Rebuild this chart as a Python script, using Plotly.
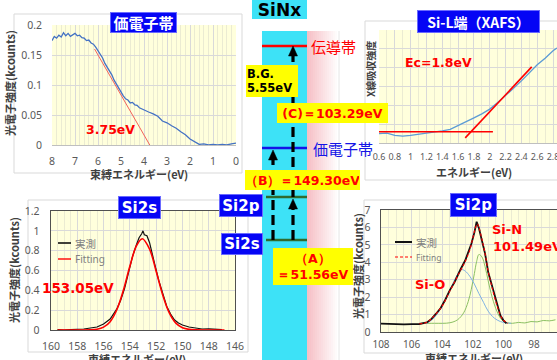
import plotly.graph_objects as go

W, H = 557, 360

# ---------------- data ----------------
# Valence band (binding energy, kcounts)
vb_energy = [8.0, 7.9, 7.8, 7.7, 7.6, 7.5, 7.4, 7.3, 7.2, 7.1, 7.0, 6.9, 6.8, 6.7, 6.6, 6.5, 6.4, 6.3,
             6.2, 6.1, 6.0, 5.9, 5.8, 5.7, 5.6, 5.5, 5.4, 5.3, 5.2, 5.1, 5.0, 4.9, 4.8, 4.7, 4.6, 4.5,
             4.4, 4.3, 4.2, 4.1, 4.0, 3.8, 3.6, 3.4, 3.2, 3.0, 2.8, 2.6, 2.4, 2.2, 2.0, 1.8, 1.6, 1.4,
             1.2, 1.0, 0.8, 0.6, 0.4, 0.2, 0.0]
vb_counts = [0.174, 0.181, 0.178, 0.183, 0.180, 0.187, 0.182, 0.186, 0.181, 0.184, 0.186, 0.182,
             0.183, 0.179, 0.178, 0.174, 0.175, 0.170, 0.168, 0.163, 0.157, 0.150, 0.145, 0.136,
             0.130, 0.122, 0.117, 0.108, 0.101, 0.095, 0.087, 0.082, 0.077, 0.075, 0.070, 0.071,
             0.067, 0.066, 0.062, 0.060, 0.058, 0.055, 0.052, 0.048, 0.040, 0.037, 0.032, 0.028,
             0.022, 0.017, 0.010, 0.005, 0.001, 0.002, 0.000, 0.001, 0.000, 0.001, 0.000, 0.002, 0.003]
vb_tangent_energy = [6.15, 3.75]
vb_tangent_counts = [0.160, 0.0]
vb_xticks = [8, 7, 6, 5, 4, 3, 2, 1, 0]
vb_yticks = [0, 0.05, 0.1, 0.15, 0.2]
vb_ytext = ["0", "0.05", "0.1", "0.15", "0.2"]

# Si-L edge XAFS
xafs_energy = [0.6, 0.7, 0.8, 0.9, 1.0, 1.1, 1.2, 1.3, 1.4, 1.5, 1.6, 1.7, 1.8, 1.9, 2.0, 2.1,
               2.2, 2.3, 2.4, 2.5, 2.6, 2.7, 2.8, 2.85]
xafs_intensity = [0.50, 0.52, 0.41, 0.36, 0.40, 0.45, 0.53, 0.58, 0.64, 0.72, 0.92, 1.10, 1.33,
                  1.55, 1.80, 2.15, 2.50, 2.90, 3.30, 3.72, 4.15, 4.50, 4.90, 5.04]
xafs_base_energy = [0.6, 2.04]
xafs_base_int = [0.6, 0.6]
xafs_edge_energy = [1.69, 2.53]
xafs_edge_int = [0.27, 4.04]
xafs_xticks = [0.6, 0.8, 1.0, 1.2, 1.4, 1.6, 1.8, 2.0, 2.2, 2.4, 2.6, 2.8]
xafs_xtext = ["0.6", "0.8", "1", "1.2", "1.4", "1.6", "1.8", "2", "2.2", "2.4", "2.6", "2.8"]

# Si2s
si2s_be = [159.5, 159.0, 158.5, 158.0, 157.5, 157.0, 156.5, 156.0, 155.5, 155.0, 154.7, 154.4,
           154.1, 153.8, 153.5, 153.3, 153.1, 153.0, 152.9, 152.7, 152.5, 152.3, 152.1, 151.8,
           151.5, 151.2, 150.9, 150.6, 150.3, 150.0, 149.5, 149.0, 148.5, 148.0, 147.5, 147.0]
si2s_meas = [0.003, 0.0, 0.005, 0.004, 0.010, 0.020, 0.030, 0.060, 0.110, 0.210, 0.300, 0.420,
             0.580, 0.740, 0.860, 0.930, 0.970, 1.000, 0.960, 0.950, 0.880, 0.780, 0.660, 0.500,
             0.360, 0.240, 0.160, 0.100, 0.070, 0.050, 0.030, 0.020, 0.010, 0.012, 0.005, 0.003]
si2s_fit_be = [159.5, 158.0, 157.0, 156.5, 156.0, 155.5, 155.0, 154.5, 154.0, 153.5, 153.05,
               152.5, 152.0, 151.5, 151.0, 150.5, 150.0, 149.5, 149.0, 148.0, 146.8]
si2s_fit = [0.0, 0.0, 0.002, 0.008, 0.029, 0.084, 0.202, 0.398, 0.642, 0.848, 0.920,
            0.815, 0.593, 0.353, 0.172, 0.069, 0.023, 0.006, 0.001, 0.0, 0.0]
si2s_xticks = [160, 158, 156, 154, 152, 150, 148, 146]
si2s_yticks = [0, 0.2, 0.4, 0.6, 0.8, 1.0, 1.2]
si2s_ytext = ["0", "0.2", "0.4", "0.6", "0.8", "1", "1.2"]

# Si2p
si2p_be = [108.0, 107.5, 107.0, 106.5, 106.0, 105.5, 105.0, 104.7, 104.4, 104.1, 103.8, 103.5,
           103.2, 103.0, 102.8, 102.5, 102.3, 102.1, 101.9, 101.75, 101.6, 101.4, 101.2, 101.0,
           100.8, 100.6, 100.4, 100.2, 100.0, 99.8]
si2p_meas = [0.48, 0.46, 0.47, 0.44, 0.45, 0.46, 0.55, 0.75, 1.05, 1.38, 1.85, 2.40, 2.85, 3.25,
             3.60, 4.10, 4.55, 5.05, 5.70, 6.33, 5.95, 5.30, 4.50, 3.45, 2.80, 2.10, 1.45, 0.95,
             0.67, 0.50]
si2p_fit_be = [105.5, 105.0, 104.5, 104.0, 103.5, 103.0, 102.5, 102.2, 102.0, 101.8, 101.7, 101.6,
               101.4, 101.2, 101.0, 100.8, 100.5, 100.2, 100.0, 99.7]
si2p_fit = [0.47, 0.56, 0.95, 1.50, 2.35, 3.20, 4.05, 4.70, 5.40, 6.05, 6.20, 6.00, 5.30, 4.50,
            3.50, 2.75, 1.75, 0.98, 0.68, 0.50]
sin_be = [105.0, 104.5, 103.5, 103.0, 102.6, 102.3, 102.1, 101.9, 101.75, 101.6, 101.4, 101.2,
          101.0, 100.8, 100.5, 100.2, 100.0, 99.7, 99.4, 99.0, 98.6, 98.2, 97.8, 97.4, 97.0, 96.6]
sin_comp = [0.50, 0.50, 0.53, 0.70, 1.10, 1.75, 2.45, 3.35, 4.05, 4.45, 4.30, 3.75, 2.95, 2.20,
            1.35, 0.80, 0.62, 0.52, 0.50, 0.55, 0.52, 0.60, 0.58, 0.66, 0.64, 0.70]
sio_be = [105.0, 104.6, 104.2, 103.8, 103.4, 103.0, 102.75, 102.5, 102.2, 101.9, 101.6, 101.3,
          101.0, 100.6, 100.2, 99.8, 99.5]
sio_comp = [0.50, 0.75, 1.20, 1.85, 2.60, 3.30, 3.58, 3.50, 3.20, 2.75, 2.20, 1.70, 1.20, 0.80,
            0.60, 0.52, 0.50]
si2p_xticks = [108, 106, 104, 102, 100, 98]
si2p_yticks = [0, 1, 2, 3, 4, 5, 6, 7]

# ---------------- helpers ----------------
def X(px):
    return px / W


def Y(py):
    return 1 - py / H


JP = "Noto Sans CJK JP"
LAT = "DejaVu Sans"
TICKC = "#595959"
GRID = "#D9D9D9"
MINOR = "#EBEBD2"

fig = go.Figure()

# ---------------- traces ----------------
fig.add_trace(go.Scatter(x=vb_energy, y=vb_counts, mode="lines",
                         line=dict(color="#4472C4", width=1.3), xaxis="x", yaxis="y"))
fig.add_trace(go.Scatter(x=vb_tangent_energy, y=vb_tangent_counts, mode="lines",
                         line=dict(color="#F4625A", width=1), xaxis="x", yaxis="y"))

fig.add_trace(go.Scatter(x=xafs_energy, y=xafs_intensity, mode="lines",
                         line=dict(color="#5B9BD5", width=1.3), xaxis="x2", yaxis="y2"))
fig.add_trace(go.Scatter(x=xafs_base_energy, y=xafs_base_int, mode="lines",
                         line=dict(color="#FF0000", width=1.6), xaxis="x2", yaxis="y2"))
fig.add_trace(go.Scatter(x=xafs_edge_energy, y=xafs_edge_int, mode="lines",
                         line=dict(color="#FF0000", width=1.6), xaxis="x2", yaxis="y2"))

fig.add_trace(go.Scatter(x=si2s_be, y=si2s_meas, mode="lines",
                         line=dict(color="#111111", width=1.2), xaxis="x3", yaxis="y3"))
fig.add_trace(go.Scatter(x=si2s_fit_be, y=si2s_fit, mode="lines", line_shape="spline",
                         line=dict(color="#FF0000", width=1.6), xaxis="x3", yaxis="y3"))

fig.add_trace(go.Scatter(x=sin_be, y=sin_comp, mode="lines", line_shape="spline",
                         line=dict(color="#8CC063", width=1), xaxis="x4", yaxis="y4"))
fig.add_trace(go.Scatter(x=sio_be, y=sio_comp, mode="lines", line_shape="spline",
                         line=dict(color="#7FB2E5", width=1), xaxis="x4", yaxis="y4"))
fig.add_trace(go.Scatter(x=si2p_be, y=si2p_meas, mode="lines",
                         line=dict(color="#111111", width=1.8), xaxis="x4", yaxis="y4"))
fig.add_trace(go.Scatter(x=si2p_fit_be, y=si2p_fit, mode="lines", line_shape="spline",
                         line=dict(color="#FF0000", width=1.1, dash="3px,2px"), xaxis="x4", yaxis="y4"))

# ---------------- axes ----------------
tickfont = dict(family="Noto Sans", size=10.5, color=TICKC)


def xax(domain, rng, tickvals, ticktext, minor_dtick, anchor, box=False, standoff=7, size=10.5):
    d = dict(domain=domain, range=rng, tickmode="array", tickvals=tickvals, ticktext=ticktext,
             showgrid=True, gridcolor=GRID, gridwidth=1, zeroline=False, anchor=anchor,
             minor=dict(dtick=minor_dtick, showgrid=True, gridcolor=MINOR, gridwidth=1),
             ticks="", tickfont=dict(family="Noto Sans", size=size, color=TICKC),
             ticklabelstandoff=standoff, ticklabeloverflow="allow",
             fixedrange=True, automargin=False)
    if box:
        d.update(showline=True, linecolor="#505050", linewidth=1.3, mirror=True)
    else:
        d.update(showline=True, linecolor="#BFBFBF", linewidth=1)
    return d


def yax(domain, rng, tickvals, ticktext, anchor, box=False, standoff=8, show=True):
    d = dict(domain=domain, range=rng, tickmode="array", tickvals=tickvals, ticktext=ticktext,
             showgrid=True, gridcolor=GRID, gridwidth=1, zeroline=False, anchor=anchor,
             ticks="", tickfont=tickfont, ticklabelstandoff=standoff, showticklabels=show,
             fixedrange=True, automargin=False)
    if box:
        d.update(showline=True, linecolor="#505050", linewidth=1.3, mirror=True)
    return d


layout = dict(
    width=W, height=H, margin=dict(l=0, r=0, t=0, b=0, autoexpand=False),
    paper_bgcolor="white", plot_bgcolor="#FFFFDC", showlegend=False,
    xaxis=xax([X(52), X(236)], [8, 0], vb_xticks, [str(v) for v in vb_xticks], 0.2, "y", standoff=6),
    yaxis=yax([Y(145), Y(25)], [0, 0.2], vb_yticks, vb_ytext, "x", standoff=9),
    xaxis2=xax([X(379), 1.0], [0.6, 2.85], xafs_xticks, xafs_xtext, 0.1, "y2", standoff=5, size=9),
    yaxis2=yax([Y(143), Y(30)], [0, 6], [0, 1, 2, 3, 4, 5, 6], [""] * 7, "x2", show=False),
    xaxis3=xax([X(51), X(235)], [160, 146], si2s_xticks, [str(v) for v in si2s_xticks], 0.5, "y3",
               box=True, standoff=6),
    yaxis3=yax([Y(330), Y(211)], [0, 1.2], si2s_yticks, si2s_ytext, "x3", box=True, standoff=8),
    xaxis4=xax([X(381), 1.0], [108, 96.5], si2p_xticks, [str(v) for v in si2p_xticks], 0.5, "y4",
               box=True, standoff=3, size=10),
    yaxis4=yax([Y(332), Y(210)], [0, 7], si2p_yticks, [str(v) for v in si2p_yticks], "x4",
               box=True, standoff=7),
)

# ---------------- shapes ----------------
shapes = []


def rect(x0, y0, x1, y1, fill=None, line=None, lw=1, layer="below"):
    shapes.append(dict(type="rect", xref="paper", yref="paper", x0=X(x0), x1=X(x1),
                       y0=Y(y1), y1=Y(y0), fillcolor=fill or "rgba(0,0,0,0)",
                       line=dict(color=line or "rgba(0,0,0,0)", width=lw if line else 0),
                       layer=layer))


def hline(x0, x1, y, color, w, dash="solid", layer="above"):
    shapes.append(dict(type="line", xref="paper", yref="paper", x0=X(x0), x1=X(x1),
                       y0=Y(y), y1=Y(y), line=dict(color=color, width=w, dash=dash), layer=layer))


def vline(x, y0, y1, color, w, dash="solid", layer="above"):
    shapes.append(dict(type="line", xref="paper", yref="paper", x0=X(x), x1=X(x),
                       y0=Y(y0), y1=Y(y1), line=dict(color=color, width=w, dash=dash), layer=layer))


def arrowhead(x, tip, size=10, half=4.5):
    p = "M {} {} L {} {} L {} {} Z".format(X(x), Y(tip), X(x - half), Y(tip + size),
                                            X(x + half), Y(tip + size))
    shapes.append(dict(type="path", xref="paper", yref="paper", path=p,
                       fillcolor="black", line=dict(color="black", width=0.5), layer="above"))


# chart-area borders
rect(14, 14, 242, 173, line="#D9D9D9")
rect(365, 21, 560, 180, line="#D9D9D9")
rect(28, 200, 248, 352, line="#D9D9D9")
rect(364, 200, 560, 353, line="#D9D9D9")

# band diagram columns
rect(262, 31, 307, 362, fill="#3DE2F7")
n = 16
c0 = (246, 192, 198)
for i in range(n):
    t = i / (n - 1)
    col = tuple(int(round(c0[k] + (255 - c0[k]) * t)) for k in range(3))
    xs = 307 + 32 * i / n
    rect(xs, 31, xs + 32 / n + 0.3, 362, fill="rgb({},{},{})".format(*col))
vline(339, 31, 362, "#E6E6E6", 1)

# levels
hline(262, 307, 46, "#FF0000", 2.5)
hline(262, 307, 148, "#1414E6", 2.5)
hline(266, 307, 197, "#2F6B2F", 2.5)
hline(266, 307, 240, "#2F6B2F", 2.5)

# dashed transitions
DASH = "10px,5px"
vline(273, 240, 159, "black", 3.2, DASH)
arrowhead(273, 150)
vline(293, 240, 208, "black", 3.2, DASH)
arrowhead(293, 199)
vline(293, 197, 56, "black", 3.2, DASH)
arrowhead(293, 46)

# legend samples
hline(58, 71, 243, "#111111", 1.6)
hline(58, 71, 259, "#FF0000", 1.4)
hline(395, 412, 242, "#111111", 2)
hline(395, 412, 257, "#FF0000", 1.2, dash="3px,2px")

layout["shapes"] = shapes

# ---------------- annotations ----------------
ann = []


def text(t, x, y, size, color, family=JP, bold=False, xanchor="center", angle=0):
    ann.append(dict(text="<b>{}</b>".format(t) if bold else t, xref="paper", yref="paper",
                    x=X(x), y=Y(y), xanchor=xanchor, yanchor="middle", showarrow=False,
                    textangle=angle, font=dict(family=family, size=size, color=color)))


def box(t, cx, cy, w, h, bg, color, size, family=JP, bold=True, align="center", border=None):
    ann.append(dict(text="<b>{}</b>".format(t) if bold else t, xref="paper", yref="paper",
                    x=X(cx), y=Y(cy), xanchor="center", yanchor="middle", showarrow=False,
                    width=w - 2, height=h - 2, borderpad=0, bgcolor=bg, align=align,
                    bordercolor=border or bg, borderwidth=1,
                    font=dict(family=family, size=size, color=color)))


BLUE = "#0505F5"
# panel titles
box("価電子帯", 143.5, 22.5, 67, 21, BLUE, "white", 15, border="#6A6AFF")
box("Si-L端（XAFS）", 478.5, 21.5, 123, 23, BLUE, "white", 14, border="#6A6AFF")
box("Si2s", 139, 207.5, 43, 23, BLUE, "white", 15, family=LAT, border="#6A6AFF")
box("Si2p", 473.5, 205, 47, 24, BLUE, "white", 15, family=LAT, border="#6A6AFF")
box("Si2p", 241, 205.5, 44, 23, BLUE, "white", 15, family=LAT, border="#6A6AFF")
box("Si2s", 242, 244, 42, 22, BLUE, "white", 15, family=LAT, border="#6A6AFF")

# SiNx header
box("SiNx", 279.5, 9.5, 55, 19, "#3DE2F7", "black", 17, family=LAT)

# yellow value boxes
YEL = "#FFFF00"
box("B.G.<br>5.55eV", 272, 81, 52, 32, YEL, "black", 11.5, family=LAT, align="left")
box("(C)＝103.29eV", 332.5, 113, 111, 20, YEL, "#FF0000", 12.5, family=LAT)
box("（B）＝149.30eV", 302.5, 180, 115, 20, YEL, "#FF0000", 12.5, family=LAT)
box("（A）<br>＝51.56eV", 313, 266.5, 80, 37, YEL, "#FF0000", 12.5, family=LAT)

# level labels
text("伝導帯", 333.5, 46, 15, "#FF0000")
text("価電子帯", 342.5, 148, 15, "#1414E6")

# red value labels
text("3.75eV", 110, 129, 12.5, "#FF0000", family=LAT, bold=True)
text("Ec=1.8eV", 439, 62, 12.5, "#FF0000", family=LAT, bold=True)
text("153.05eV", 78, 288, 13.5, "#FF0000", family=LAT, bold=True)
text("Si-N", 490, 230, 13, "#FF0000", family=LAT, bold=True, xanchor="left")
text("101.49eV", 491, 246, 13, "#FF0000", family=LAT, bold=True, xanchor="left")
text("Si-O", 430, 284, 13, "#FF0000", family=LAT, bold=True)

# legends
text("実測", 73, 243, 10.5, "#7F7F7F", xanchor="left")
text("Fitting", 73, 259, 10, "#7F7F7F", family="Noto Sans", xanchor="left")
text("実測", 414, 242, 10.5, "#7F7F7F", xanchor="left")
text("Fitting", 414, 257, 8.5, "#7F7F7F", family="Noto Sans", xanchor="left")

# axis titles
ytitle = "光電子強度(kcounts)"
xtitle = "束縛エネルギー(eV)"
text(ytitle, 10, 83, 11, "#404040", bold=True, angle=-90)
text(xtitle, 139, 174, 11, "#404040", bold=True)
text("X線吸収強度", 370, 69, 10, "#404040", bold=True, angle=-90)
text("エネルギー(eV)", 474, 172, 11, "#404040", bold=True)
text(ytitle, 14, 270, 11, "#404040", bold=True, angle=-90)
text(xtitle, 137, 359, 11, "#404040", bold=True)
text(ytitle, 358, 266, 11, "#404040", bold=True, angle=-90)
text(xtitle, 474, 358, 11, "#404040", bold=True)

layout["annotations"] = ann
fig.update_layout(**layout)

fig.write_html(
    "out.html",
    config={"displayModeBar": False, "staticPlot": True},
    post_script="document.body.style.margin='0';document.body.style.overflow='hidden';",
)
